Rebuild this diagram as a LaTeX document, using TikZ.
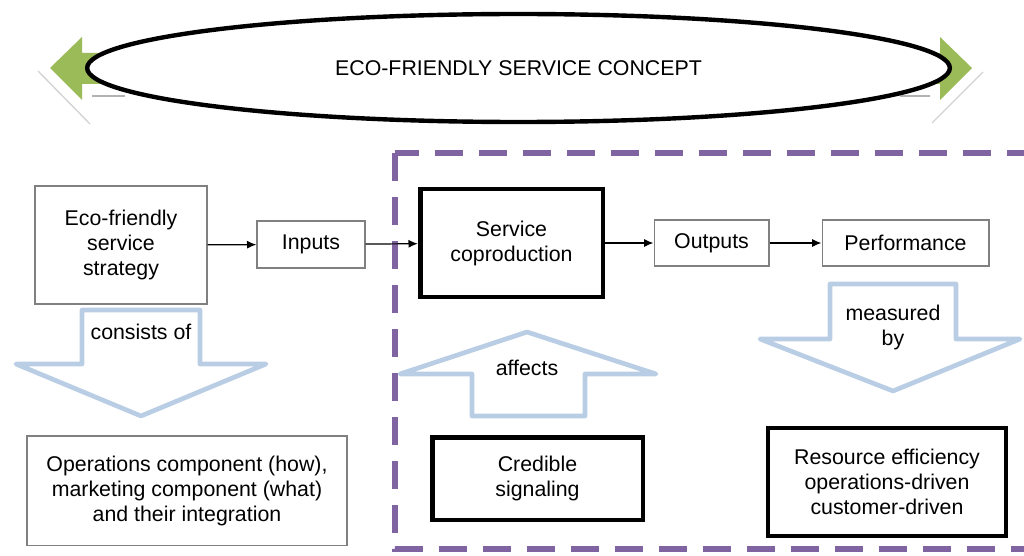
\documentclass[tikz,border=0pt]{standalone}
\usepackage{fontspec}
\setmainfont{Liberation Sans}
\usetikzlibrary{arrows.meta,shapes.geometric}
\definecolor{ecogreen}{RGB}{155,187,89}
\definecolor{paleblue}{RGB}{185,205,229}
\definecolor{dashpurple}{RGB}{128,100,162}

\begin{document}
\begin{tikzpicture}[x=0.75pt,y=0.75pt,yscale=-1,xscale=1,
  every node/.style={font=\fontsize{16}{18.75}\selectfont,align=center},
  box/.style={draw={rgb,255:red,128;green,128;blue,128},line width=1pt,inner sep=0pt},
  thickbox/.style={draw=black,line width=3.5pt,inner sep=0pt},
  hollow/.style={draw=paleblue,line width=3.5pt,fill=white,line join=round},
  link/.style={draw=black,line width=0.9pt,-{Latex[length=7pt,width=6pt]}}]
\useasboundingbox (0,0) rectangle (1024,556);

%Shape: Double Arrow
\fill[ecogreen] (50,68) -- (82,37) -- (82,53) -- (940,53) -- (940,37) -- (972,68) -- (940,100) -- (940,84) -- (82,84) -- (82,100) -- cycle;
%Straight Lines
\draw[gray!35,line width=1pt] (38,71) -- (90,124);
\draw[gray!60,line width=1pt] (92,96) -- (125,96);
\draw[gray!60,line width=1pt] (900,96) -- (930,96);
\draw[gray!35,line width=1pt] (932,123) -- (983,72);
%Shape: Ellipse
\node[ellipse,draw,line width=3.3pt,fill=white,minimum width=647pt,minimum height=81pt,inner sep=0pt] (concept) at (518.5,68) {ECO-FRIENDLY SERVICE CONCEPT};

%Shape: Dashed Rectangle
\draw[dashpurple,line width=4.5pt,dash pattern=on 21pt off 12pt] (395,153) rectangle (1045,549);

% Text Node
\node[box,minimum width=129pt,minimum height=88.5pt] (strategy) at (121,245) {Eco-friendly\\service\\strategy};
% Text Node
\node[box,minimum width=81pt,minimum height=35.25pt] (inputs) at (311,244.5) {Inputs};
% Text Node
\node[thickbox,minimum width=137pt,minimum height=81pt] (coprod) at (511.5,243) {Service\\coproduction};
% Text Node
\node[box,minimum width=86pt,minimum height=34.5pt] (outputs) at (711.5,243) {Outputs};
% Text Node
\node[box,minimum width=125pt,minimum height=34.5pt] (perf) at (905.5,243) {Performance};
% Text Node
\node[box,minimum width=240pt,minimum height=82pt] (components) at (187,490.5) {Operations component (how),\\marketing component (what)\\and their integration};
% Text Node
\node[thickbox,minimum width=158pt,minimum height=62pt] (signal) at (537.5,478.5) {Credible\\signaling};
% Text Node
\node[thickbox,minimum width=178.5pt,minimum height=81pt] (efficiency) at (887,482) {Resource efficiency\\operations-driven\\customer-driven};

%Straight Lines
\draw[link] (strategy) -- (inputs);
\draw[link] (inputs) -- (coprod);
\draw[link] (coprod) -- (outputs);
\draw[link] (outputs) -- (perf);

%Shape: Down Arrow
\draw[hollow] (82,310) -- (200,310) -- (200,364) -- (266,364) -- (141,416) -- (16,364) -- (82,364) -- cycle;
% Text Node
\node (consists) at (141,332) {consists of};
%Shape: Up Arrow
\draw[hollow] (472,416) -- (585,416) -- (585,374) -- (656,374) -- (527,332) -- (400,374) -- (472,374) -- cycle;
% Text Node
\node (affects) at (527,368) {affects};
%Shape: Down Arrow
\draw[hollow] (830,284) -- (956,284) -- (956,339) -- (1020,339) -- (893,391) -- (760,339) -- (830,339) -- cycle;
% Text Node
\node (measured) at (893,327) {measured\\by};

\end{tikzpicture}
\end{document}
